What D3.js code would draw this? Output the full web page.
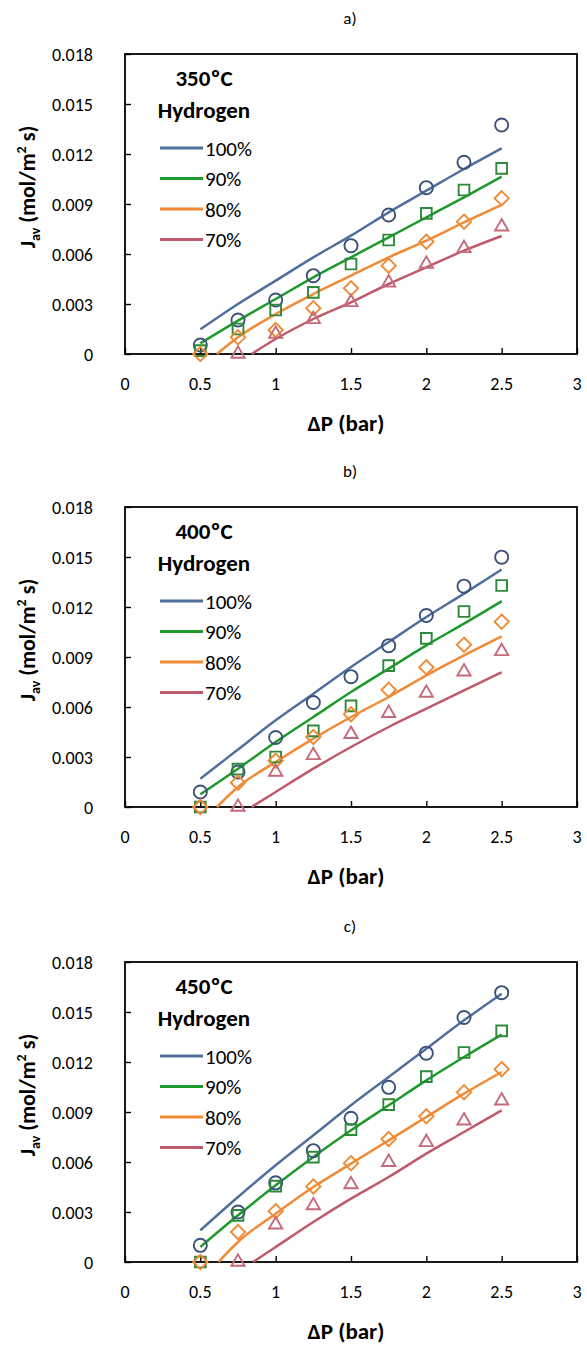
<!DOCTYPE html>
<html lang="en">
<head>
  <meta charset="UTF-8" />
  <title>Hydrogen flux</title>
  <script src="https://d3js.org/d3.v7.min.js"></script>
  <style>
    body { margin: 0; background: #fff; }
    svg text { font-family: Carlito, Lato, "Open Sans", sans-serif; fill: #000; }
  </style>
</head>
<body>
<svg id="chart" width="587" height="1347"></svg>
<script>
// == DATA ==
const pressure = [0.5, 0.75, 1, 1.25, 1.5, 1.75, 2, 2.25, 2.5];
const seriesNames = ["100%", "90%", "80%", "70%"];
const panelLabels = ["a)", "b)", "c)"];
const temps = ["350ºC", "400ºC", "450ºC"];
const yTicks = [0, 0.003, 0.006, 0.009, 0.012, 0.015, 0.018];
const xTicks = [0, 0.5, 1, 1.5, 2, 2.5, 3];

// measured points (null = no marker)
const a100 = [0.00054, 0.00204, 0.00324, 0.0047, 0.0065, 0.00834, 0.00998, 0.0115, 0.01374];
const a90  = [0.0002, 0.0015, 0.00264, 0.0037, 0.0054, 0.00684, 0.00844, 0.00984, 0.01114];
const a80  = [0, 0.001, 0.00144, 0.00274, 0.00394, 0.0053, 0.00674, 0.00794, 0.00934];
const a70  = [null, 0, 0.0012, 0.00208, 0.0031, 0.00428, 0.0054, 0.00634, 0.00764];

const b100 = [0.0009, 0.0021, 0.00417, 0.00627, 0.00782, 0.00968, 0.01149, 0.01325, 0.01499];
const b90  = [0, 0.00227, 0.003, 0.00457, 0.00607, 0.00848, 0.01012, 0.01173, 0.01329];
const b80  = [0, 0.00146, 0.00277, 0.0042, 0.00557, 0.00703, 0.00838, 0.00974, 0.01112];
const b70  = [null, 0, 0.0021, 0.0031, 0.00437, 0.00563, 0.00684, 0.00812, 0.00934];

const c100 = [0.001, 0.003, 0.00475, 0.00668, 0.00862, 0.01048, 0.01253, 0.01467, 0.01616];
const c90  = [0, 0.0028, 0.00455, 0.00629, 0.00794, 0.00944, 0.01112, 0.01257, 0.01387];
const c80  = [0, 0.0018, 0.00305, 0.00453, 0.00593, 0.00738, 0.00874, 0.01018, 0.01157];
const c70  = [null, 0, 0.00224, 0.00339, 0.00465, 0.00599, 0.00718, 0.00848, 0.00968];

// model fits [ΔP, J]
const fitA100 = [[0.5, 0.00148], [0.75, 0.003], [1, 0.0044], [1.25, 0.0058], [1.5, 0.0071], [1.75, 0.0085], [2, 0.0098], [2.25, 0.0111], [2.5, 0.01234]];
const fitA90  = [[0.5, 0.00064], [0.75, 0.002], [1, 0.0033], [1.25, 0.0046], [1.5, 0.0058], [1.75, 0.007], [2, 0.0082], [2.25, 0.0094], [2.5, 0.01064]];
const fitA80  = [[0.61, 0], [0.75, 0.001], [1, 0.0024], [1.25, 0.0036], [1.5, 0.0047], [1.75, 0.0058], [2, 0.0068], [2.25, 0.0079], [2.5, 0.00895]];
const fitA70  = [[0.84, 0], [1, 0.0009], [1.25, 0.0021], [1.5, 0.0031], [1.75, 0.0042], [2, 0.0052], [2.25, 0.0062], [2.5, 0.00708]];

const fitB100 = [[0.5, 0.0017], [0.75, 0.00345], [1, 0.0052], [1.25, 0.0068], [1.5, 0.0084], [1.75, 0.0099], [2, 0.0114], [2.25, 0.0128], [2.5, 0.01425]];
const fitB90  = [[0.5, 0.00076], [0.75, 0.0023], [1, 0.0039], [1.25, 0.0054], [1.5, 0.0069], [1.75, 0.0083], [2, 0.0097], [2.25, 0.011], [2.5, 0.01235]];
const fitB80  = [[0.61, 0], [0.75, 0.0012], [1, 0.0027], [1.25, 0.0041], [1.5, 0.0054], [1.75, 0.0066], [2, 0.0079], [2.25, 0.0091], [2.5, 0.01024]];
const fitB70  = [[0.84, 0], [1, 0.0009], [1.25, 0.0023], [1.5, 0.0036], [1.75, 0.0048], [2, 0.0059], [2.25, 0.007], [2.5, 0.00808]];

const fitC100 = [[0.5, 0.0019], [0.75, 0.0039], [1, 0.0058], [1.25, 0.0076], [1.5, 0.0094], [1.75, 0.0111], [2, 0.0128], [2.25, 0.0145], [2.5, 0.0161]];
const fitC90  = [[0.5, 0.0009], [0.75, 0.0028], [1, 0.0046], [1.25, 0.0063], [1.5, 0.0079], [1.75, 0.0094], [2, 0.0109], [2.25, 0.0123], [2.5, 0.01365]];
const fitC80  = [[0.62, 0], [0.75, 0.0012], [1, 0.0029], [1.25, 0.0045], [1.5, 0.0059], [1.75, 0.0073], [2, 0.0087], [2.25, 0.0101], [2.5, 0.0114]];
const fitC70  = [[0.85, 0], [1, 0.0009], [1.25, 0.0024], [1.5, 0.0038], [1.75, 0.0051], [2, 0.0065], [2.25, 0.0078], [2.5, 0.0091]];

const measured = [[a100, a90, a80, a70], [b100, b90, b80, b70], [c100, c90, c80, c70]];
const fits = [[fitA100, fitA90, fitA80, fitA70], [fitB100, fitB90, fitB80, fitB70], [fitC100, fitC90, fitC80, fitC70]];

// == STYLE ==
const lineColors = ["#4f6f9c", "#1e9a2c", "#f08a34", "#bf5a6a"];
const markColors = ["#3d5279", "#2d8a3a", "#ee8a35", "#c46a7a"];
const symbols = [d3.symbolCircle, d3.symbolSquare, d3.symbolDiamond2, d3.symbolTriangle2];
const symbolSizes = [135, 115, 130, 125];

const svg = d3.select("#chart");
const left = 125, right = 577, plotH = 300;
const panelTops = [54, 507, 962];

const x = d3.scaleLinear().domain([0, 3]).range([left, right]);

panelTops.forEach((top, p) => {
  const g = svg.append("g");
  const y = d3.scaleLinear().domain([0, 0.018]).range([top + plotH, top]);

  g.append("text").attr("x", 350).attr("y", top - 30)
    .attr("text-anchor", "middle").style("font-size", "17px").text(panelLabels[p]);

  // frame
  g.append("rect").attr("x", left).attr("y", top).attr("width", right - left).attr("height", plotH)
    .attr("fill", "none").attr("stroke", "#000").attr("stroke-width", 1.8);

  // axes (inward ticks)
  const xAxis = g.append("g").attr("transform", `translate(0,${top + plotH})`)
    .call(d3.axisTop(x).tickValues(xTicks).tickSize(6).tickFormat(""));
  xAxis.select(".domain").remove();
  xAxis.selectAll("line").attr("stroke", "#000").attr("stroke-width", 1.4);
  g.selectAll(".xl").data(xTicks).join("text").attr("class", "xl")
    .attr("x", d => x(d)).attr("y", top + plotH + 36)
    .attr("text-anchor", "middle").style("font-size", "18px").text(d => d3.format("")(d));

  const yAxis = g.append("g").attr("transform", `translate(${left},0)`)
    .call(d3.axisRight(y).tickValues(yTicks).tickSize(6).tickFormat(""));
  yAxis.select(".domain").remove();
  yAxis.selectAll("line").attr("stroke", "#000").attr("stroke-width", 1.4);
  g.selectAll(".yl").data(yTicks).join("text").attr("class", "yl")
    .attr("x", 93).attr("y", d => y(d) + 6.5)
    .attr("text-anchor", "end").style("font-size", "18px").text(d => d === 0 ? "0" : d3.format(".3f")(d));

  // axis titles
  g.append("text").attr("x", 346).attr("y", top + plotH + 77)
    .attr("text-anchor", "middle").style("font-size", "23px").style("font-weight", "bold").text("ΔP (bar)");
  const yt = g.append("text").attr("transform", `translate(35,${top + 133}) rotate(-90)`)
    .attr("text-anchor", "middle").style("font-size", "22px").style("font-weight", "bold");
  yt.append("tspan").text("J");
  yt.append("tspan").attr("dy", 5).style("font-size", "14px").text("av");
  yt.append("tspan").attr("dy", -5).text(" (mol/m");
  yt.append("tspan").attr("dy", -9).style("font-size", "14px").text("2");
  yt.append("tspan").attr("dy", 9).text(" s)");

  // fit lines
  const line = d3.line().x(d => x(d[0])).y(d => y(d[1])).curve(d3.curveMonotoneX);
  fits[p].forEach((f, s) => {
    g.append("path").datum(f).attr("d", line)
      .attr("fill", "none").attr("stroke", lineColors[s]).attr("stroke-width", 2.5);
  });

  // measured markers
  measured[p].forEach((vals, s) => {
    const pts = pressure.map((xv, i) => [xv, vals[i]]).filter(d => d[1] !== null);
    g.selectAll(null).data(pts).join("path")
      .attr("transform", d => `translate(${x(d[0])},${y(d[1])})`)
      .attr("d", d3.symbol().type(symbols[s]).size(symbolSizes[s]))
      .attr("fill", "none").attr("stroke", markColors[s]).attr("stroke-width", 1.9);
  });

  // legend
  g.append("text").attr("x", 204).attr("y", top + 32).attr("text-anchor", "middle")
    .style("font-size", "23px").style("font-weight", "bold").text(temps[p]);
  g.append("text").attr("x", 204).attr("y", top + 64).attr("text-anchor", "middle")
    .style("font-size", "23px").style("font-weight", "bold").text("Hydrogen");
  seriesNames.forEach((name, s) => {
    const ly = top + 94 + s * 30.5;
    g.append("line").attr("x1", 160).attr("x2", 203).attr("y1", ly).attr("y2", ly)
      .attr("stroke", lineColors[s]).attr("stroke-width", 2.8);
    g.append("text").attr("x", 205).attr("y", ly + 7.5).style("font-size", "21px").text(name);
  });
});
</script>
</body>
</html>
